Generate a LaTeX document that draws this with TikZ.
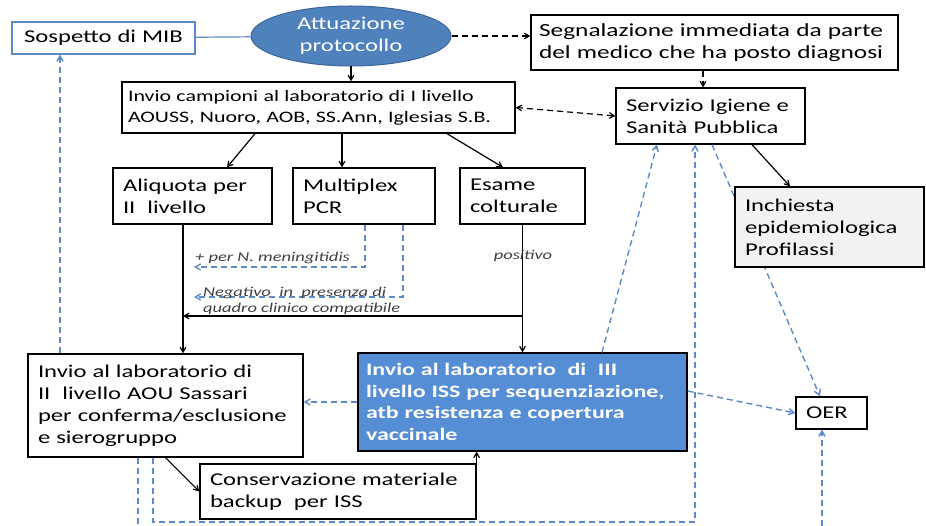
\documentclass[tikz,border=0pt]{standalone}
\usepackage{fontspec}
\setmainfont{Carlito}[FakeStretch=1.37]
\usetikzlibrary{shapes.geometric, arrows}
\definecolor{lineblue}{HTML}{5B8BC9}
\definecolor{ovalblue}{HTML}{4F81BD}
\definecolor{ovaledge}{HTML}{3A659A}
\definecolor{boxblue}{HTML}{558ED5}
\definecolor{boxgray}{HTML}{F2F2F2}
\definecolor{notegray}{HTML}{404040}
\tikzstyle{block} = [rectangle, draw=black, line width=1.3pt, align=left, inner xsep=10pt, inner ysep=2pt, font=\fontsize{18}{22}\selectfont]
\tikzstyle{oval} = [ellipse, fill=ovalblue, draw=ovaledge, line width=1pt, minimum width=200pt, minimum height=60pt, inner sep=0pt, align=center, text=white, font=\fontsize{18}{22}\selectfont]
\tikzstyle{note} = [font=\itshape\fontsize{13.5}{16}\selectfont, text=notegray, inner sep=0pt, align=left]
\tikzstyle{arrow} = [line width=1.2pt,->,>=angle 60]
\tikzstyle{darrow} = [line width=1.2pt,dash pattern=on 6pt off 4pt,->,>=angle 60]
\tikzstyle{barrow} = [line width=1.4pt,lineblue,dash pattern=on 6pt off 4pt,->,>=angle 60]

\begin{document}
\begin{tikzpicture}[x=1pt, y=-1pt]
\useasboundingbox (0,0) rectangle (926,526);

	\node (mib) [block, draw=lineblue, line width=1.2pt, text width=163pt, align=center, minimum height=32pt] at (103.5,38) {Sospetto di MIB};
	\node (att) [oval] at (351,36) {Attuazione\\protocollo};
	\node (seg) [block, font=\fontsize{18.5}{22}\selectfont, text width=351pt, inner xsep=8pt, minimum height=55pt] at (714.5,42.5) {Segnalazione immediata da parte\\del medico che ha posto diagnosi};
	\node (inv1) [block, font=\fontsize{16}{21}\selectfont, text width=381pt, inner xsep=6pt, minimum height=51pt] at (318.5,107.5) {Invio campioni al laboratorio di I livello\\AOUSS, Nuoro, AOB, SS.Ann, Iglesias S.B.};
	\node (sisp) [block, text width=169pt, minimum height=56pt] at (710.5,116) {Servizio Igiene e\\Sanità Pubblica};
	\node (aliq) [block, text width=139pt, minimum height=56pt] at (192.5,196) {Aliquota per\\II\ \ livello};
	\node (pcr) [block, text width=122pt, minimum height=56pt] at (364,196) {Multiplex\\PCR};
	\node (esame) [block, text width=105pt, minimum height=56pt] at (522.5,196) {Esame\\colturale};
	\node (inv2) [block, text width=255pt, minimum height=103pt] at (165.5,405.5) {Invio al laboratorio di\\II\ \ livello AOU Sassari\\per conferma/esclusione\\e sierogruppo};
	\node (inv3) [block, fill=boxblue, text=white, font=\bfseries\fontsize{17.5}{21.5}\selectfont, text width=313pt, inner xsep=8pt, minimum height=98pt] at (522.5,402) {Invio al laboratorio\ \ di\ \ III\\livello ISS per sequenziazione,\\atb resistenza e copertura\\vaccinale};
	\node (oer) [block, text width=51pt, minimum height=32pt] at (831.5,413) {OER};
	\node (cons) [block, text width=256pt, minimum height=55pt] at (338,491.5) {Conservazione materiale\\backup\ \ per ISS};

	\coordinate (nm) at (194,267);
	\coordinate (neg) at (194,297);
	\coordinate (esj) at (522.5,316);
	\coordinate (alj) at (183,316);
	\coordinate (bl1) at (138,526);
	\coordinate (bl2) at (153,522);
	\coordinate (oerb) at (822,526);

\draw [lineblue, line width=1.2pt] (mib) -- (att);
\draw [darrow] (att.east) -- (att.east -| seg.west);
\draw [arrow] (att.south) -- (att.south |- inv1.north);
\draw [darrow] ([xshift=-11.5pt]seg.south) -- ([xshift=-11.5pt]seg.south |- sisp.north);
\draw [darrow, <->] (inv1.east) -- (sisp.west);
\draw [arrow] ([xshift=-63.5pt]inv1.south) -- ([xshift=34.5pt]aliq.north);
\draw [arrow] ([xshift=23.5pt]inv1.south) -- ([xshift=23.5pt]inv1.south |- pcr.north);
\draw [arrow] ([xshift=128.5pt]inv1.south) -- ([xshift=-19.5pt]esame.north);
\draw [arrow] ([xshift=-9.5pt]aliq.south) -- ([xshift=17.5pt]inv2.north);
\draw [barrow] ([xshift=1pt]pcr.south) |- (nm);
\draw [barrow] ([xshift=39pt]pcr.south) |- (neg);
\draw [arrow] (esame.south) -- (inv3.north);
\draw [arrow] (esj) -- (alj);
\draw [barrow] (inv3.west) -- (inv3.west -| inv2.east);
\draw [barrow] ([yshift=11pt]inv3.east) -- (oer.west);
\draw [arrow] (inv2.south) -- (cons.west);
\draw [arrow] (cons.north east) -- (cons.north east |- inv3.south);
\draw [barrow] ([xshift=-105.5pt]inv2.north) -- ([xshift=-43.5pt]mib.south);
\draw [barrow, -] ([xshift=-27.5pt]inv2.south) -- (bl1);
\draw [barrow] ([xshift=-12.5pt]inv2.south) -- (bl2) -| ([xshift=-15.5pt]sisp.south);
\draw [barrow] ([xshift=79.5pt]inv3.north) -- ([xshift=-53.5pt]sisp.south);
\draw [barrow] (oerb) -- (oerb |- oer.south);
\draw [barrow] ([xshift=1.5pt]sisp.south) -- ([xshift=-11.5pt]oer.north);

	\node (inch) [block, fill=boxgray, text width=169pt, minimum height=80pt] at (829.5,227) {Inchiesta\\epidemiologica\\Profilassi};
\draw [arrow] ([xshift=41.5pt]sisp.south) -- ([xshift=-39.5pt]inch.north);

	\node (lbm) [note, anchor=south west] at (195,264) {+ per N. meningitidis};
	\node (lbn) [note, anchor=west] at (203,301) {Negativo\ \ in\ \ presenza di\\quadro clinico compatibile};
	\node (lbp) [note] at (523,256) {positivo};

\end{tikzpicture}
\end{document}
